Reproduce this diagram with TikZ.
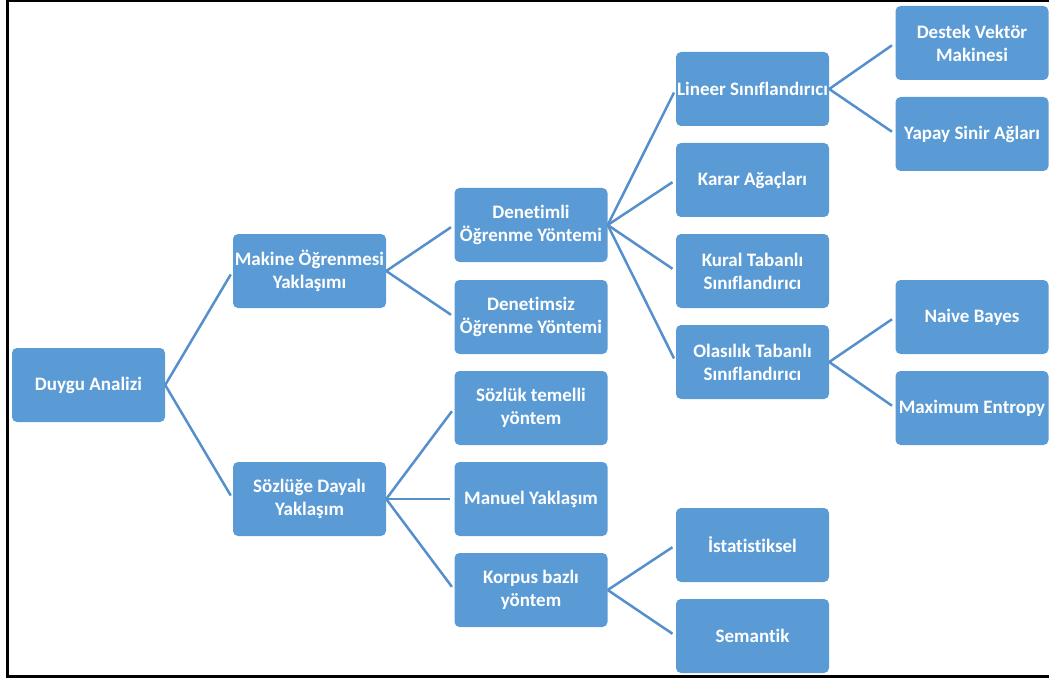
\documentclass[tikz,border=0pt]{standalone}
\usepackage{fontspec}
\setmainfont{Carlito}[Ligatures=NoCommon]
\usepackage{tikz}
\usepackage{xcolor}

\definecolor{boxblue}{HTML}{5B9BD5}
\definecolor{lineblue}{HTML}{5590CC}

\begin{document}
\begin{tikzpicture}[x=1pt, y=-1pt,
    box/.style={fill=boxblue, rounded corners=5pt, minimum width=153pt, minimum height=74pt,
        inner sep=0pt, align=center, text=white, font=\fontsize{19}{23}\selectfont\bfseries},
    link/.style={draw=lineblue, line width=2.5pt, shorten >=4pt}]
    \useasboundingbox (0,0) rectangle (1049,679);

    % Frame
    \draw[line width=3pt] (1049,1) -- (7,1) -- (7,676) -- (1049,676);

    % Root and first level
    \node[box] (duygu) at (88.5,385) {Duygu Analizi};
    \node[box] (makine) at (309.5,271) {Makine Öğrenmesi\\Yaklaşımı};
    \node[box] (sozluge) at (309.5,499) {Sözlüğe Dayalı\\Yaklaşım};

    % Second level
    \node[box] (denetimli) at (531,225) {Denetimli\\Öğrenme Yöntemi};
    \node[box] (denetimsiz) at (531,317) {Denetimsiz\\Öğrenme Yöntemi};
    \node[box] (sozluk) at (531,408) {Sözlük temelli\\yöntem};
    \node[box] (manuel) at (531,499) {Manuel Yaklaşım};
    \node[box] (korpus) at (531,590) {Korpus bazlı\\yöntem};

    % Third level
    \node[box] (lineer) at (752.5,89) {Lineer Sınıflandırıcı};
    \node[box] (karar) at (752.5,180) {Karar Ağaçları};
    \node[box] (kural) at (752.5,271) {Kural Tabanlı\\Sınıflandırıcı};
    \node[box] (olasilik) at (752.5,362) {Olasılık Tabanlı\\Sınıflandırıcı};
    \node[box] (istat) at (752.5,545) {İstatistiksel};
    \node[box] (semantik) at (752.5,636) {Semantik};

    % Fourth level
    \node[box] (destek) at (972,43) {Destek Vektör\\Makinesi};
    \node[box] (yapay) at (972,134) {Yapay Sinir Ağları};
    \node[box] (naive) at (972,317) {Naive Bayes};
    \node[box] (maxent) at (972,408) {Maximum Entropy};

    % Links
    \draw[link] (duygu.east) -- (makine.west);
    \draw[link] (duygu.east) -- (sozluge.west);
    \draw[link] (makine.east) -- (denetimli.west);
    \draw[link] (makine.east) -- (denetimsiz.west);
    \draw[link] (sozluge.east) -- (sozluk.west);
    \draw[link] (sozluge.east) -- (manuel.west);
    \draw[link] (sozluge.east) -- (korpus.west);
    \draw[link] (denetimli.east) -- (lineer.west);
    \draw[link] (denetimli.east) -- (karar.west);
    \draw[link] (denetimli.east) -- (kural.west);
    \draw[link] (denetimli.east) -- (olasilik.west);
    \draw[link] (korpus.east) -- (istat.west);
    \draw[link] (korpus.east) -- (semantik.west);
    \draw[link] (lineer.east) -- (destek.west);
    \draw[link] (lineer.east) -- (yapay.west);
    \draw[link] (olasilik.east) -- (naive.west);
    \draw[link] (olasilik.east) -- (maxent.west);
\end{tikzpicture}
\end{document}
